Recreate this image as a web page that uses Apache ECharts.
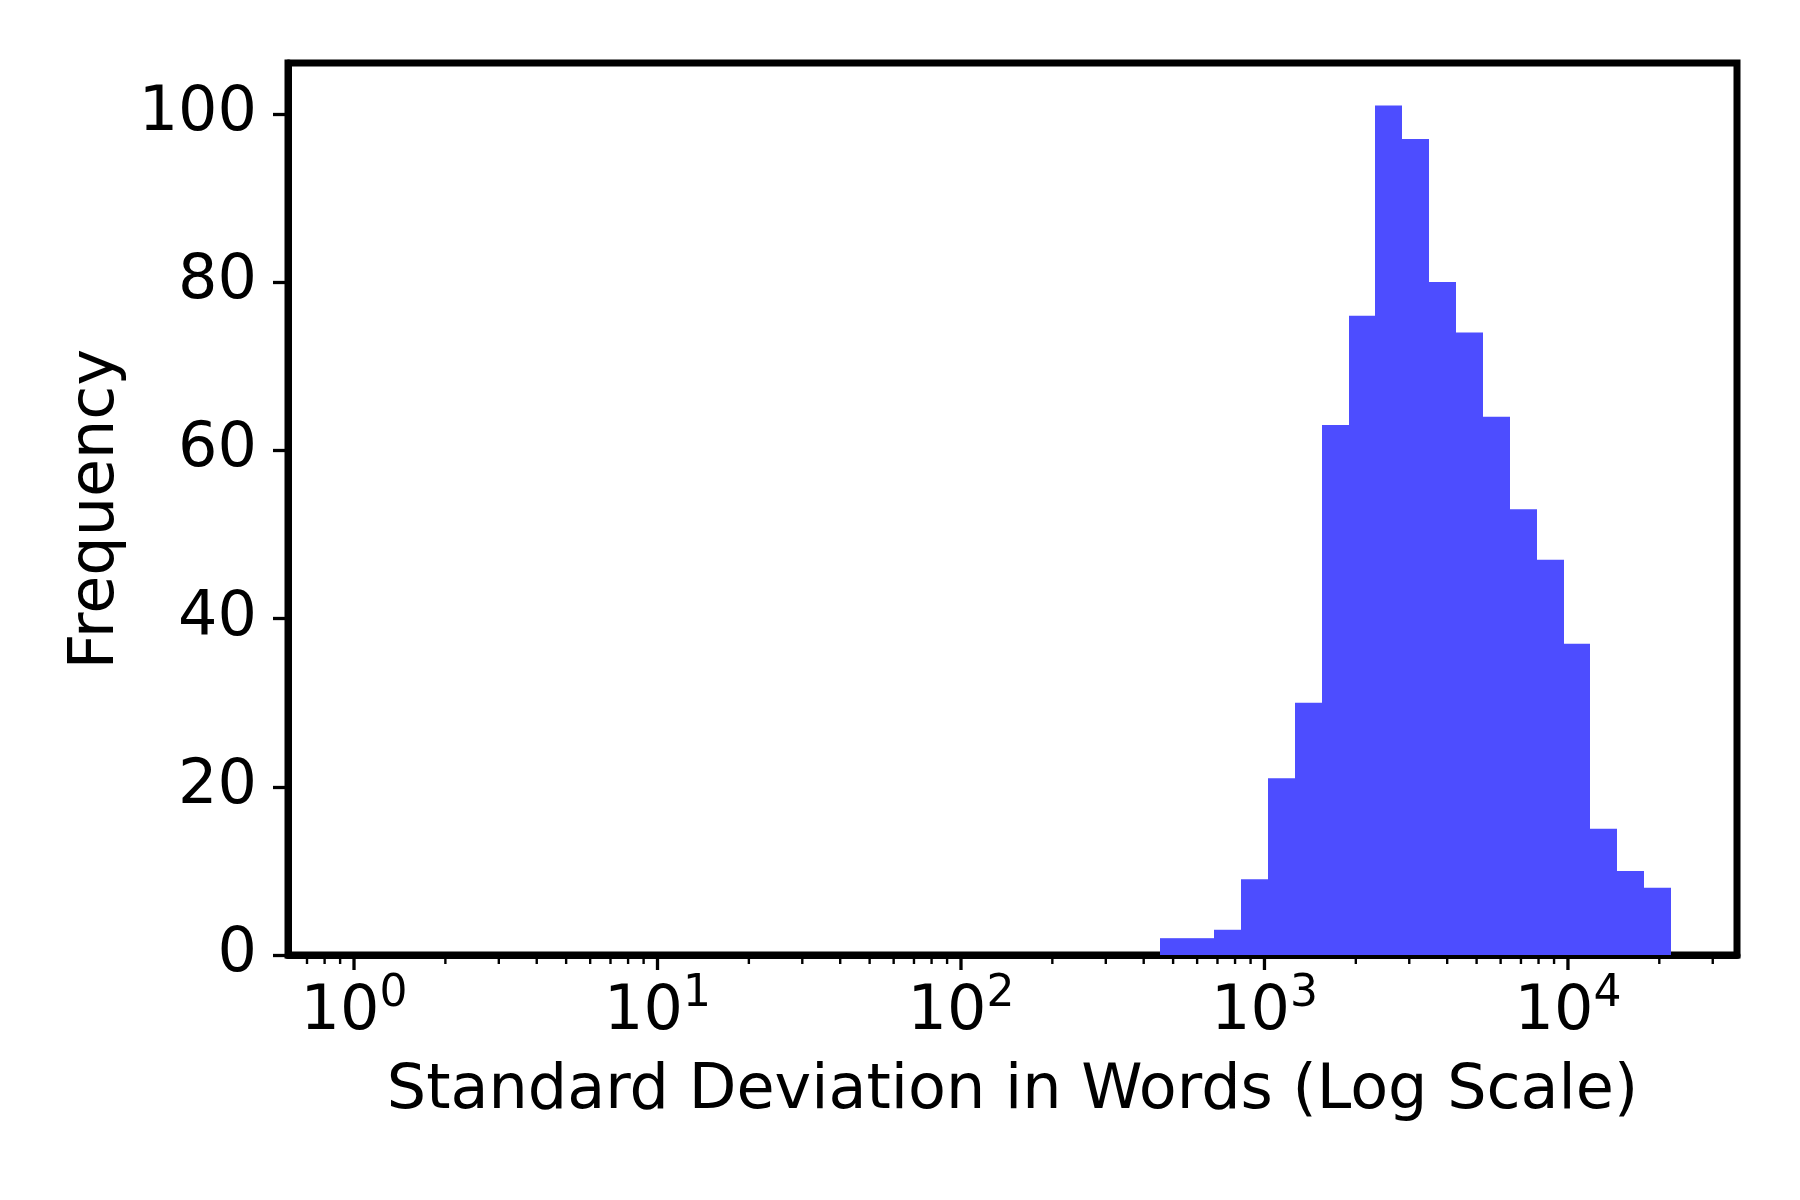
<!DOCTYPE html>
<html>
<head>
<meta charset="utf-8">
<script src="https://cdn.jsdelivr.net/npm/echarts@6/dist/echarts.min.js"></script>
<style>
  html, body { margin: 0; padding: 0; background: #fff; }
  #main { width: 1800px; height: 1200px; }
</style>
</head>
<body>
<div id="main"></div>
<script>
// histogram bin edges (words, log spaced) and counts per bin
var binEdges = [454, 557, 683, 838, 1027, 1259, 1544, 1893, 2321, 2847, 3492,
    4281, 5248, 6435, 7892, 9676, 11865, 14553, 17843, 21878];
var counts = [2, 2, 3, 9, 21, 30, 63, 76, 101, 97, 80, 74, 64, 53, 47, 37, 15, 10, 8];

var xMajorTicks = [1, 10, 100, 1000, 10000];
var xMinorTicks = [0.7, 0.8, 0.9,
    2, 3, 4, 5, 6, 7, 8, 9,
    20, 30, 40, 50, 60, 70, 80, 90,
    200, 300, 400, 500, 600, 700, 800, 900,
    2000, 3000, 4000, 5000, 6000, 7000, 8000, 9000,
    20000, 30000];
var yTicks = [0, 20, 40, 60, 80, 100];

var font = 'DejaVu Sans';

var bars = [];
for (var i = 0; i < counts.length; i++) {
    bars.push([binEdges[i], binEdges[i + 1], counts[i]]);
}
var ticks = [];
xMajorTicks.forEach(function (v) { ticks.push([v, 15, 3.3]); });
xMinorTicks.forEach(function (v) { ticks.push([v, 9, 2.4]); });

var chart = echarts.init(document.getElementById('main'));

var option = {
    backgroundColor: '#fff',
    animation: false,
    grid: {
        left: 288,
        right: 63,
        top: 63,
        bottom: 245,
        show: true,
        borderColor: '#000',
        borderWidth: 7,
        backgroundColor: 'transparent'
    },
    xAxis: {
        type: 'log',
        logBase: 10,
        min: 0.606,
        max: 36060,
        name: 'Standard Deviation in Words (Log Scale)',
        nameLocation: 'middle',
        nameGap: 106,
        nameTextStyle: { fontFamily: font, fontSize: 62, color: '#000' },
        axisLine: { show: true, lineStyle: { color: '#000', width: 7 } },
        axisTick: { show: false },
        splitLine: { show: false },
        minorTick: { show: false },
        axisLabel: {
            margin: 18,
            showMinLabel: false,
            showMaxLabel: false,
            formatter: function (v) {
                return '{b|10}{s|' + Math.round(Math.log10(v)) + '}';
            },
            rich: {
                b: { fontFamily: font, fontSize: 62, color: '#000', lineHeight: 80 },
                s: { fontFamily: font, fontSize: 44, color: '#000', lineHeight: 44, verticalAlign: 'top' }
            }
        }
    },
    yAxis: {
        type: 'value',
        min: 0,
        max: 106.05,
        interval: 20,
        name: 'Frequency',
        nameLocation: 'middle',
        nameGap: 150,
        nameTextStyle: { fontFamily: font, fontSize: 62, color: '#000' },
        axisLine: { show: true, lineStyle: { color: '#000', width: 7 } },
        axisTick: {
            show: true,
            length: 15,
            customValues: yTicks,
            lineStyle: { color: '#000', width: 3.3 }
        },
        splitLine: { show: false },
        axisLabel: {
            customValues: yTicks,
            margin: 31,
            fontFamily: font,
            fontSize: 62,
            color: '#000'
        }
    },
    series: [
        {
            type: 'custom',
            name: 'hist',
            data: bars,
            z: 1,
            renderItem: function (params, api) {
                var p0 = api.coord([api.value(0), api.value(2)]);
                var p1 = api.coord([api.value(1), 0]);
                var x0 = Math.round(p0[0]);
                var x1 = Math.round(p1[0]);
                return {
                    type: 'rect',
                    shape: { x: x0, y: p0[1], width: x1 - x0, height: p1[1] - p0[1] },
                    style: { fill: '#4d4dff', stroke: null }
                };
            }
        },
        {
            type: 'custom',
            name: 'ticks',
            data: ticks,
            z: 5,
            clip: false,
            silent: true,
            renderItem: function (params, api) {
                var p = api.coord([api.value(0), 0]);
                return {
                    type: 'line',
                    shape: { x1: p[0], y1: p[1], x2: p[0], y2: p[1] + api.value(1) },
                    style: { stroke: '#000', lineWidth: api.value(2) }
                };
            }
        }
    ]
};

chart.setOption(option);
</script>
</body>
</html>
